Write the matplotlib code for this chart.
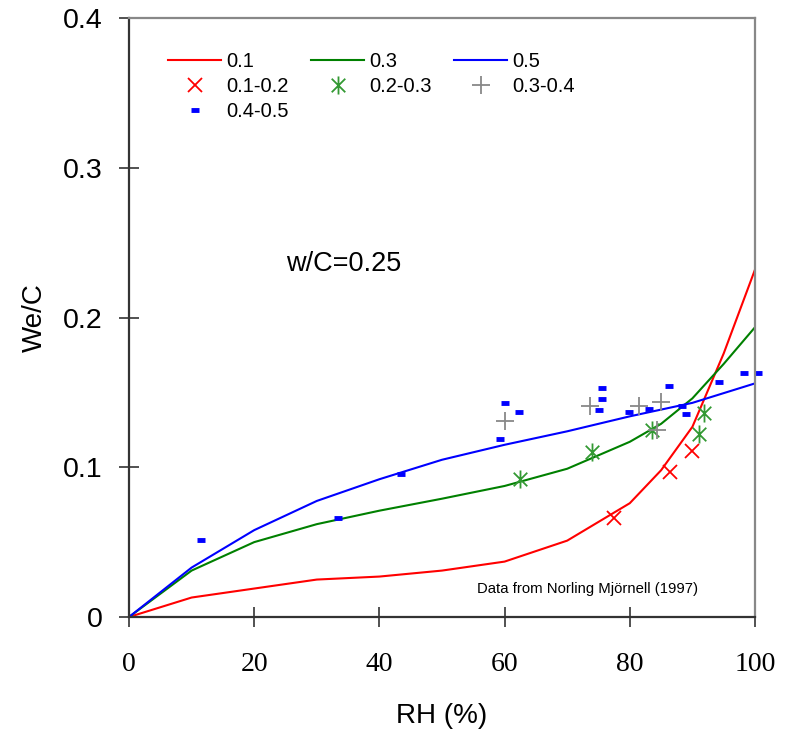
import numpy as np
from matplotlib import pyplot as plt
from matplotlib.path import Path
from matplotlib.lines import Line2D

# model curves
rh_red = [0, 10, 20, 30, 40, 50, 60, 70, 80, 85, 90, 95, 100]
we_red = [0, 0.013, 0.019, 0.025, 0.027, 0.031, 0.037, 0.051, 0.076, 0.098, 0.127, 0.176, 0.232]
rh_green = [0, 10, 20, 30, 40, 50, 60, 70, 80, 85, 90, 95, 100]
we_green = [0, 0.031, 0.050, 0.062, 0.071, 0.079, 0.0875, 0.099, 0.117, 0.129, 0.146, 0.169, 0.1935]
rh_blue = [0, 10, 20, 30, 40, 50, 60, 70, 80, 90, 100]
we_blue = [0, 0.033, 0.058, 0.0775, 0.092, 0.105, 0.115, 0.124, 0.134, 0.143, 0.156]

# measured points
rh_12 = [77.5, 86.5, 90.0]
we_12 = [0.066, 0.097, 0.111]
rh_23 = [62.5, 73.9, 83.5, 91.1, 91.9]
we_23 = [0.092, 0.110, 0.125, 0.122, 0.136]
rh_34 = [60.1, 73.6, 81.4, 85.0, 84.3]
we_34 = [0.131, 0.141, 0.141, 0.1434, 0.125]
rh_45 = [11.5, 33.4, 43.4, 60.0, 62.3, 59.3, 75.5, 75.5, 75.0, 79.9, 83.0, 86.3, 88.4, 89.0, 94.2, 98.2, 100.5]
we_45 = [0.0514, 0.0663, 0.0957, 0.1429, 0.1367, 0.119, 0.1531, 0.1456, 0.138, 0.1367, 0.139, 0.1545, 0.141, 0.1356, 0.157, 0.163, 0.163]

sans = 'Liberation Sans'
serif = 'Liberation Serif'

# asterisk: vertical bar + x
ast = Path([(0, -1), (0, 1), (-0.75, -0.75), (0.75, 0.75), (-0.75, 0.75), (0.75, -0.75)],
           [Path.MOVETO, Path.LINETO, Path.MOVETO, Path.LINETO, Path.MOVETO, Path.LINETO])

fig = plt.figure(figsize=(7.93, 7.31), dpi=100)
ax = fig.add_axes([129/793, (731-617)/731, 626/793, 599/731])

l1, = ax.plot(rh_red, we_red, color='#ff0000', lw=1.5, label='0.1')
l3, = ax.plot(rh_green, we_green, color='#008000', lw=1.5, label='0.3')
l5, = ax.plot(rh_blue, we_blue, color='#0000ff', lw=1.5, label='0.5')

s1, = ax.plot(rh_12, we_12, ls='none', marker='x', ms=10, mew=1.3, color='#ff0000', label='0.1-0.2')
s2, = ax.plot(rh_23, we_23, ls='none', marker=ast, ms=13, mew=1.3, color='#339933', label='0.2-0.3')
s3, = ax.plot(rh_34, we_34, ls='none', marker='+', ms=13, mew=1.3, color='#888888', label='0.3-0.4')
s4, = ax.plot(rh_45, we_45, ls='none', marker='_', ms=6, mew=3.5, color='#0000ff', label='0.4-0.5',
              clip_on=False)

blank = Line2D([], [], ls='none')
handles = [l1, s1, s4, l3, s2, blank, l5, s3, blank]
labels = ['0.1', '0.1-0.2', '0.4-0.5', '0.3', '0.2-0.3', '', '0.5', '0.3-0.4', '']
ax.legend(handles, labels, ncol=3, frameon=False, loc='upper left', bbox_to_anchor=(0.05, 0.957),
          prop={'family': sans, 'size': 14.5}, handlelength=2.63, handletextpad=0.25,
          columnspacing=1.12, labelspacing=0.3, borderaxespad=0)

ax.set_xlim(0, 100)
ax.set_ylim(0, 0.4)
ax.set_xticks([0, 20, 40, 60, 80, 100])
ax.set_yticks([0, 0.1, 0.2, 0.3, 0.4])
ax.set_yticklabels(['0', '0.1', '0.2', '0.3', '0.4'])
ax.tick_params(axis='both', direction='inout', length=14, width=1.2, color='#333333')
ax.tick_params(axis='y', pad=12)
ax.tick_params(axis='x', pad=18)
for t in ax.get_yticklabels():
    t.set_family(sans)
    t.set_fontsize(20.5)
for t in ax.get_xticklabels():
    t.set_family(serif)
    t.set_fontsize(20)

for s in ['left', 'bottom']:
    ax.spines[s].set_color('#333333')
    ax.spines[s].set_linewidth(1.6)
for s in ['top', 'right']:
    ax.spines[s].set_color('#888888')
    ax.spines[s].set_linewidth(1.6)

ax.set_xlabel('RH (%)', family=sans, fontsize=20, labelpad=19)
ax.set_ylabel('We/C', family=sans, fontsize=20, labelpad=11)

ax.text(25.1, 0.236, 'w/C=0.25', family=sans, fontsize=19.5, va='center')
ax.text(55.6, 0.0187, 'Data from Norling Mjörnell (1997)', family=sans, fontsize=10.7, va='center')

plt.savefig('out.png', dpi=100)
